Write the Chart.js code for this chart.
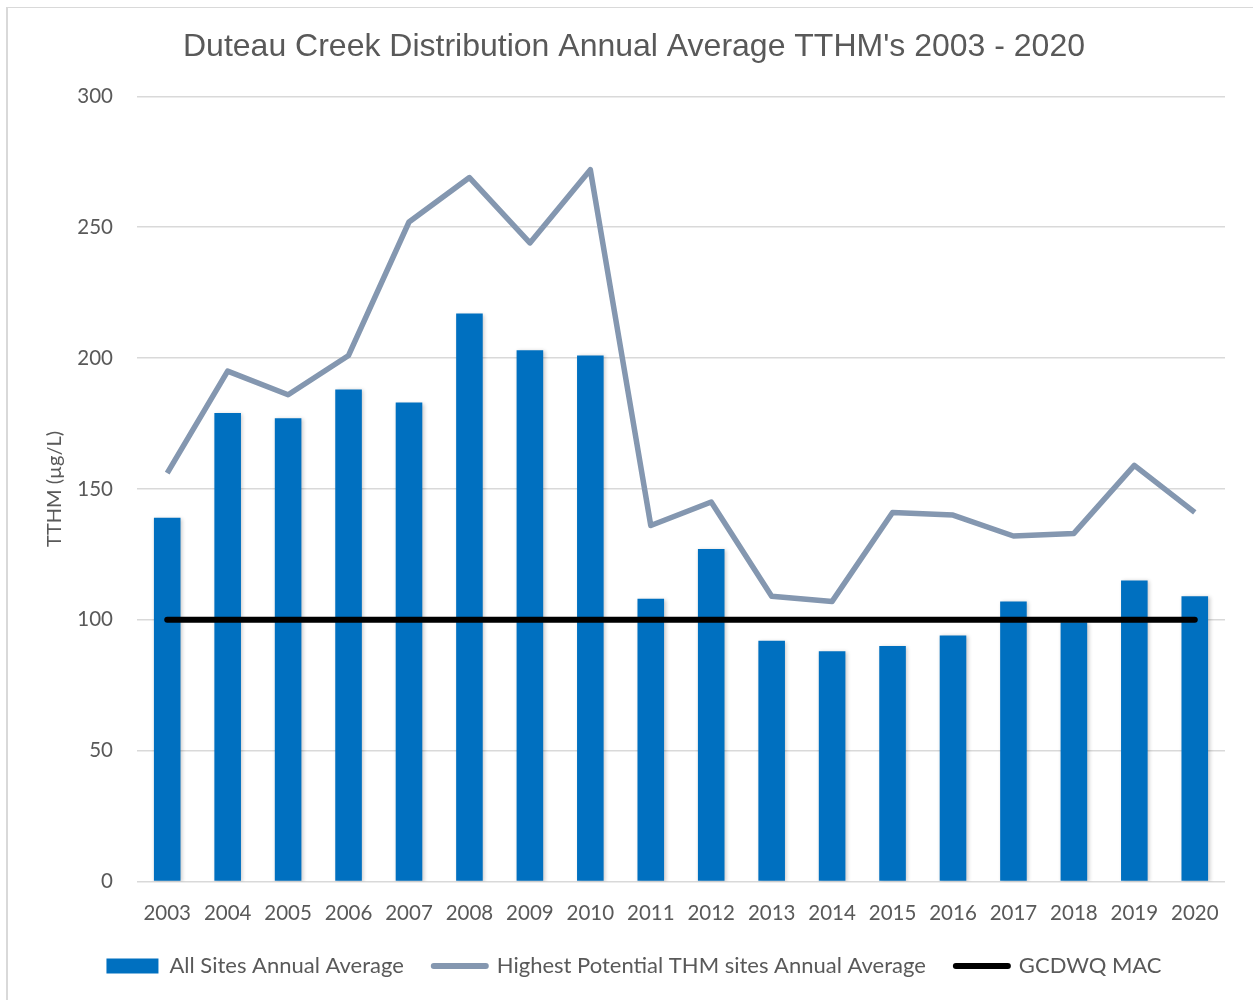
<!DOCTYPE html>
<html>
<head>
<meta charset="utf-8">
<title>Duteau Creek TTHM</title>
<script src="https://cdn.jsdelivr.net/npm/chart.js@4.4.1/dist/chart.umd.min.js"></script>
<style>
  html, body { margin: 0; padding: 0; background: #fff; overflow: hidden; }
  #wrap { position: relative; width: 1253px; height: 1000px; }
  #frame {
    position: absolute; left: 6px; top: 7px; width: 1300px; height: 1100px;
    border-left: 2px solid #d9d9d9; border-top: 1px solid #d9d9d9;
  }
  canvas { position: absolute; left: 0; top: 0; }
</style>
</head>
<body>
<div id="wrap">
  <div id="frame"></div>
  <canvas id="chart" width="1253" height="1000"></canvas>
</div>
<script>
// annual values, µg/L
const years = ['2003', '2004', '2005', '2006', '2007', '2008', '2009', '2010', '2011',
               '2012', '2013', '2014', '2015', '2016', '2017', '2018', '2019', '2020'];
const allSitesAvg = [139, 179, 177, 188, 183, 217, 203, 201, 108,
                     127, 92, 88, 90, 94, 107, 99, 115, 109];
const highPotentialAvg = [156, 195, 186, 201, 252, 269, 244, 272, 136,
                          145, 109, 107, 141, 140, 132, 133, 159, 141];
const macLimit = [100, 100, 100, 100, 100, 100, 100, 100, 100,
                  100, 100, 100, 100, 100, 100, 100, 100, 100];
const yTicks = [0, 50, 100, 150, 200, 250, 300];

const textGrey = '#595959';
const labelFont = 'Lato, "Open Sans", sans-serif';

// soft drop shadow under the bars only
const barShadow = {
  id: 'barShadow',
  beforeDatasetDraw(chart, args) {
    if (args.index !== 0) return;
    const ctx = chart.ctx;
    ctx.save();
    ctx.shadowColor = 'rgba(0,0,0,0.22)';
    ctx.shadowBlur = 4;
    ctx.shadowOffsetX = 1.5;
    ctx.shadowOffsetY = 1;
  },
  afterDatasetDraw(chart, args) {
    if (args.index !== 0) return;
    chart.ctx.restore();
  }
};

new Chart(document.getElementById('chart'), {
  data: {
    labels: years,
    datasets: [
      {
        type: 'bar',
        label: 'All Sites Annual Average',
        data: allSitesAvg,
        backgroundColor: '#0070c0',
        barPercentage: 0.44,
        categoryPercentage: 1,
        order: 3
      },
      {
        type: 'line',
        label: 'Highest Potential THM sites Annual Average',
        data: highPotentialAvg,
        borderColor: '#8497b0',
        borderWidth: 5.5,
        borderJoinStyle: 'round',
        pointRadius: 0,
        tension: 0,
        order: 2
      },
      {
        type: 'line',
        label: 'GCDWQ MAC',
        data: macLimit,
        borderColor: '#000000',
        borderWidth: 6,
        borderCapStyle: 'round',
        pointRadius: 0,
        tension: 0,
        order: 1
      }
    ]
  },
  options: {
    responsive: false,
    animation: false,
    layout: { padding: { left: 43, right: 28, top: 28, bottom: 13 } },
    plugins: {
      tooltip: { enabled: false },
      title: {
        display: true,
        text: "Duteau Creek Distribution Annual Average TTHM's 2003 - 2020",
        color: textGrey,
        font: { family: '"Liberation Sans", Arial, sans-serif', size: 32, weight: 'normal' },
        padding: { top: 0, bottom: 30 }
      },
      legend: {
        position: 'bottom',
        labels: {
          color: textGrey,
          font: { family: labelFont, size: 22 },
          boxWidth: 52,
          boxHeight: 15,
          padding: 30,
          usePointStyle: true,
          pointStyleWidth: 52,
          generateLabels(chart) {
            return chart.data.datasets.map((ds, i) => {
              const isBar = ds.type === 'bar';
              return {
                text: ds.label,
                datasetIndex: i,
                fillStyle: isBar ? ds.backgroundColor : ds.borderColor,
                strokeStyle: isBar ? ds.backgroundColor : ds.borderColor,
                lineWidth: isBar ? 0 : 6,
                lineCap: 'round',
                pointStyle: isBar ? 'rect' : 'line',
                fontColor: textGrey,
                hidden: false
              };
            });
          }
        }
      }
    },
    scales: {
      x: {
        grid: { display: false },
        border: { display: false },
        ticks: { color: textGrey, font: { family: labelFont, size: 20.5 }, padding: 12, maxRotation: 0 },
        afterFit(scale) {
          scale.height -= 13;
        }
      },
      y: {
        min: 0,
        max: 300,
        afterBuildTicks(scale) {
          scale.ticks = yTicks.map(v => ({ value: v }));
        },
        afterFit(scale) {
          scale.width = 94;
        },
        grid: { color: '#d9d9d9', lineWidth: 1.5, drawTicks: false },
        border: { display: false },
        ticks: { color: textGrey, font: { family: labelFont, size: 20.5 }, padding: 24 },
        title: {
          display: true,
          text: 'TTHM (µg/L)',
          color: textGrey,
          font: { family: labelFont, size: 20 },
          padding: 0
        }
      }
    }
  },
  plugins: [barShadow]
});
</script>
</body>
</html>
